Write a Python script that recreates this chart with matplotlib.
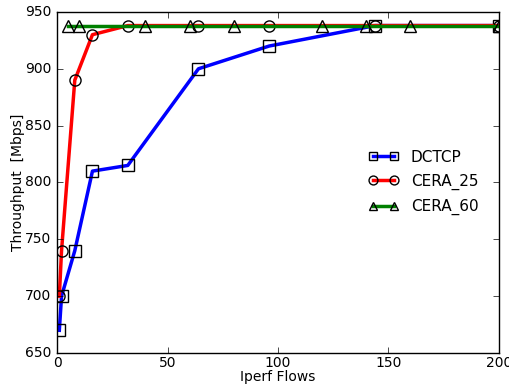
import matplotlib
matplotlib.use("Agg")
import matplotlib.pyplot as plt

plt.style.use("classic")

dctcp_x = [1, 2, 8, 16, 32, 64, 96, 144, 200]
dctcp_y = [670, 700, 740, 810, 815, 900, 920, 938, 938]
cera25_x = [1, 2, 8, 16, 32, 64, 96, 144, 200]
cera25_y = [700, 740, 890, 930, 938, 938, 938, 938, 938]
cera60_x = [5, 10, 40, 60, 80, 120, 140, 160, 200]
cera60_y = [938, 938, 938, 938, 938, 938, 938, 938, 938]

fig = plt.figure(figsize=(5.1, 3.85), dpi=100, facecolor="white")
ax = fig.add_axes([0.112, 0.083, 0.866, 0.886])

kw = dict(lw=2.5, mfc="none", mec="black", mew=1, ms=8)
ax.plot(dctcp_x, dctcp_y, color="blue", marker="s", label="DCTCP", **kw)
ax.plot(cera25_x, cera25_y, color="red", marker="o", label="CERA_25", **kw)
ax.plot(cera60_x, cera60_y, color="green", marker="^", label="CERA_60", **kw)

ax.set_xlim(0, 200)
ax.set_ylim(650, 950)
ax.set_xticks([0, 50, 100, 150, 200])
ax.set_yticks(range(650, 951, 50))
ax.tick_params(labelsize=10)
ax.tick_params(axis="x", pad=2)
ax.set_xlabel("Iperf Flows", fontsize=10, labelpad=0)
ax.set_ylabel("Throughput  [Mbps]", fontsize=10, labelpad=0)
leg = ax.legend(loc="center right", frameon=False, numpoints=2, fontsize=11,
                labelspacing=0.6, handlelength=2.0, handletextpad=0.8,
                markerscale=0.8, bbox_to_anchor=(0.985, 0.5))

fig.savefig("out.png", dpi=100, facecolor="white")
